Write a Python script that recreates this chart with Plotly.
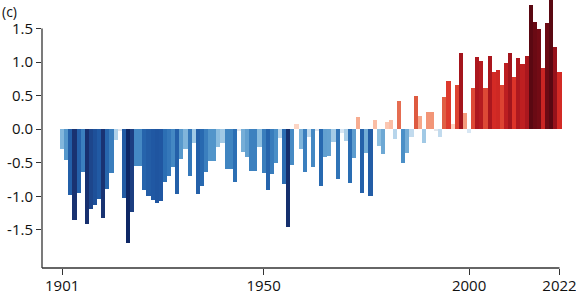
import plotly.graph_objects as go

years = list(range(1901, 2023))
anomaly = [
    -0.29, -0.46, -0.98, -1.35, -0.95, -0.64, -1.41, -1.19, -1.13, -1.04,
    -1.33, -0.89, -0.65, -0.16, -0.02, -1.03, -1.70, -1.24, -0.55, -0.55,
    -0.91, -1.00, -1.06, -1.10, -1.07, -0.78, -0.70, -0.56, -0.96, -0.45,
    -0.30, -0.70, -0.20, -0.96, -0.85, -0.64, -0.47, -0.47, -0.26, -0.20,
    -0.59, -0.59, -0.78, -0.02, -0.34, -0.41, -0.62, -0.62, -0.26, -0.65,
    -0.91, -0.67, -0.50, -0.13, -0.81, -1.46, -0.54, 0.08, -0.30, -0.64,
    -0.11, -0.56, -0.03, -0.85, -0.41, -0.40, -0.19, -0.74, -0.05, -0.17,
    -0.80, -0.43, 0.18, -0.95, -0.35, -1.00, 0.13, -0.25, -0.37, 0.11,
    0.13, -0.14, 0.42, -0.50, -0.35, -0.11, 0.50, 0.20, -0.20, 0.26,
    0.26, -0.02, -0.11, 0.48, 0.72, 0.08, 0.66, 1.13, 0.24, -0.05,
    0.62, 1.07, 1.02, 0.62, 1.09, 0.85, 0.88, 0.66, 0.98, 1.14,
    0.77, 1.06, 0.97, 1.09, 1.85, 1.60, 1.49, 0.91, 1.58, 1.95,
    1.22, 0.85,
]
y_tickvals = [1.5, 1.0, 0.5, 0.0, -0.5, -1.0, -1.5]
y_ticktext = ["1.5", "1.0", "0.5", "0.0", "-0.5", "-1.0", "-1.5"]
x_tickvals = [1901, 1950, 2000, 2022]
x_ticktext = ["1901", "1950", "2000", "2022"]

CMIN, CMAX = -1.8, 1.8
stops = [(-1.8, "#0b2461"), (-1.3, "#1a3473"), (-1.1, "#1f55a0"), (-0.8, "#2a6db3"),
         (-0.5, "#4a8fc7"), (-0.25, "#8ebfe0"), (-0.05, "#d8e7f4"), (0.05, "#fde3d6"),
         (0.15, "#f9b59a"), (0.3, "#f08a6a"), (0.5, "#de5a40"), (0.8, "#dc2f26"),
         (1.05, "#b0181f"), (1.4, "#7a0c16"), (1.8, "#5a0812")]
colorscale = [[(v - CMIN) / (CMAX - CMIN), c] for v, c in stops]

YMIN, YMAX = -2.068, 1.924
XMIN, XMAX = 1896.1, 2022.6

fig = go.Figure(go.Bar(
    x=years, y=anomaly, width=1.0,
    marker=dict(color=anomaly, colorscale=colorscale, cmin=CMIN, cmax=CMAX,
                line=dict(width=0)),
))

font = dict(family="Open Sans, DejaVu Sans, sans-serif", size=15, color="#111")
fig.update_layout(
    template="none",
    width=576, height=294,
    margin=dict(l=42, r=14, t=0, b=26),
    paper_bgcolor="white", plot_bgcolor="white",
    bargap=0, showlegend=False, font=font,
    xaxis=dict(range=[XMIN, XMAX], tickvals=x_tickvals, ticktext=x_ticktext,
               ticks="outside", ticklen=6, tickwidth=1.3, tickcolor="#333",
               showline=False, showgrid=False, zeroline=False, automargin=False,
               ticklabeloverflow="allow", ticklabelstandoff=-2, tickfont=font),
    yaxis=dict(range=[YMIN, YMAX], tickvals=y_tickvals, ticktext=y_ticktext,
               ticks="outside", ticklen=5, tickwidth=1.3, tickcolor="#333",
               showline=False, showgrid=False, zeroline=False, automargin=False,
               ticklabeloverflow="allow", tickfont=font),
    shapes=[
        dict(type="line", xref="paper", yref="y", x0=0, x1=0, y0=YMIN, y1=1.5,
             line=dict(color="#333", width=1.3)),
        dict(type="line", xref="x", yref="paper", x0=XMIN, x1=2022, y0=0, y1=0,
             line=dict(color="#333", width=1.3)),
    ],
    annotations=[dict(text="(c)", xref="paper", yref="paper", x=-0.081, y=1.0,
                      xanchor="left", yanchor="top", showarrow=False,
                      font=dict(family="Open Sans, DejaVu Sans, sans-serif", size=14, color="#111"))],
)

fig.write_html("out.html", config={"displayModeBar": False},
               post_script="document.body.style.margin='0px';")
